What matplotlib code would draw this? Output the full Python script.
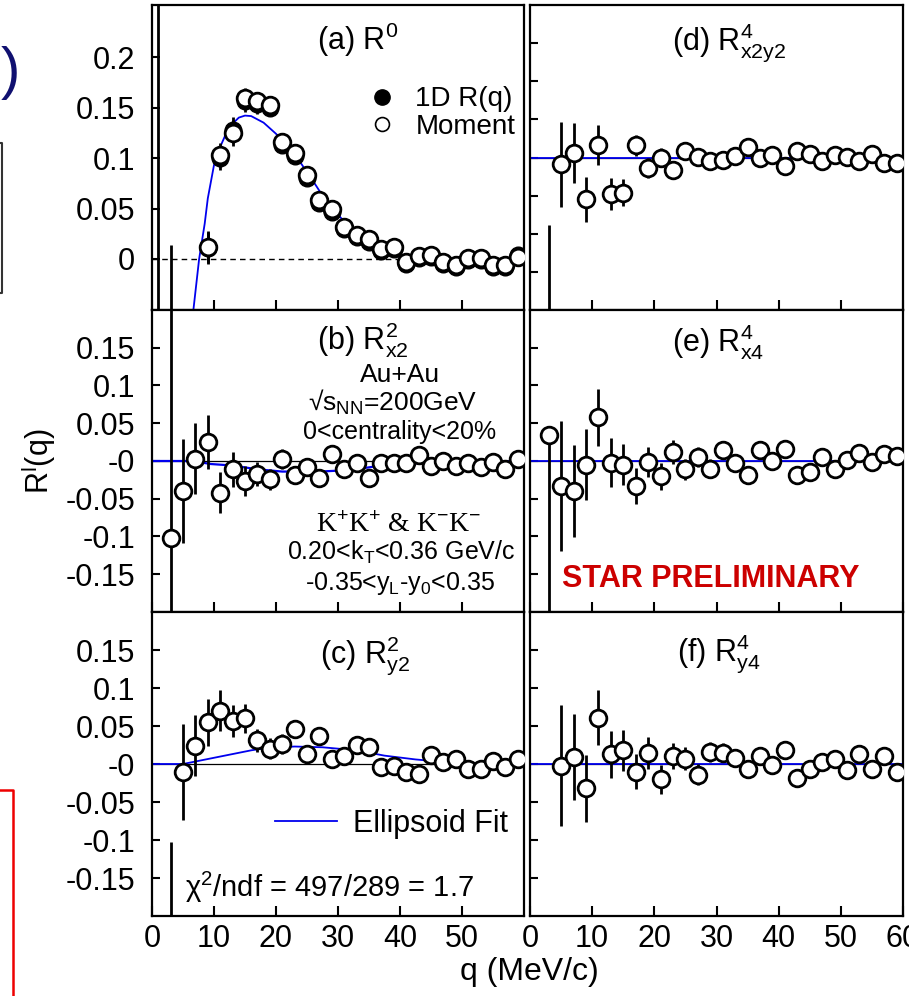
import numpy as np
import matplotlib
matplotlib.use('Agg')
import matplotlib.pyplot as plt
from matplotlib.lines import Line2D

plt.rcParams['font.family'] = ['Liberation Sans', 'DejaVu Sans']
plt.rcParams['mathtext.fontset'] = 'custom'
plt.rcParams['mathtext.rm'] = 'Liberation Sans'
plt.rcParams['mathtext.it'] = 'Liberation Sans:italic'
plt.rcParams['mathtext.bf'] = 'Liberation Sans:bold'

# ---------------- data ----------------
q_odd = [3, 5, 7, 9, 11, 13, 15, 17, 19, 21, 23, 25, 27, 29, 31, 33, 35, 37, 39,
         41, 43, 45, 47, 49, 51, 53, 55, 57, 59]

# (a) R^0 : moment (open) and 1D R(q) (filled)
q_a = [1, 3, 9, 11, 13, 15, 17, 19, 21, 23, 25, 27, 29, 31, 33, 35, 37, 39,
       41, 43, 45, 47, 49, 51, 53, 55, 57, 59]
a_mom = [-0.30, -0.20, 0.012, 0.103, 0.125, 0.159, 0.156, 0.152, 0.116, 0.105, 0.083,
         0.058, 0.050, 0.032, 0.024, 0.020, 0.010, 0.012, -0.003, 0.003, 0.004,
         -0.003, -0.006, 0.001, 0.001, -0.006, -0.006, 0.002]
a_mom_err = [0.60, 0.214, 0.016, 0.012, 0.013, 0.010, 0.009, 0.008, 0.007, 0.007, 0.006,
             0.006, 0.005, 0.005, 0.005, 0.004, 0.004, 0.004, 0.004, 0.003, 0.003,
             0.003, 0.003, 0.003, 0.003, 0.003, 0.003, 0.003]
q_a1d = [9, 11, 13, 15, 17, 19, 21, 23, 25, 27, 29, 31, 33, 35, 37, 39,
         41, 43, 45, 47, 49, 51, 53, 55, 57, 59]
a_1d = [0.011, 0.100, 0.128, 0.156, 0.153, 0.150, 0.113, 0.102, 0.080, 0.055, 0.047,
        0.030, 0.022, 0.017, 0.008, 0.010, -0.005, 0.001, 0.002, -0.005, -0.008,
        -0.001, -0.001, -0.008, -0.008, 0.004]
a_1d_err = [0.016, 0.012, 0.013, 0.010, 0.009, 0.008, 0.007, 0.007, 0.006, 0.006, 0.005,
            0.005, 0.005, 0.004, 0.004, 0.004, 0.004, 0.003, 0.003, 0.003, 0.003,
            0.003, 0.003, 0.003, 0.003, 0.003]
fit_a_q = [6.5, 7.6, 8.5, 9, 10, 11, 12, 13, 14, 15, 16, 18, 20, 22, 24, 26, 28, 30,
           32, 34, 36, 38, 40, 43, 46, 50, 55, 60]
fit_a = [-0.06, 0.0, 0.035, 0.060, 0.093, 0.111, 0.125, 0.134, 0.140, 0.142, 0.1415,
         0.135, 0.124, 0.111, 0.095, 0.077, 0.058, 0.044, 0.030, 0.020, 0.012, 0.0066,
         0.002, -0.002, -0.004, -0.006, -0.0066, -0.006]

# (b) R^2_x2
b_val = [-0.102, -0.040, 0.003, 0.025, -0.042, -0.011, -0.026, -0.017, -0.024, 0.003,
         -0.019, -0.008, -0.022, 0.009, -0.010, -0.002, -0.022, -0.002, -0.002, -0.002,
         0.008, -0.006, 0.000, -0.006, -0.003, -0.008, -0.001, -0.010, 0.003]
b_err = [0.40, 0.069, 0.047, 0.036, 0.027, 0.023, 0.020, 0.016, 0.014, 0.013, 0.012,
         0.011, 0.010, 0.010, 0.009, 0.009, 0.008, 0.008, 0.008, 0.007, 0.007, 0.007,
         0.007, 0.006, 0.006, 0.006, 0.006, 0.006, 0.006]
fit_b_q = [0, 6.5, 9.5, 13, 17, 21, 27, 32, 37, 43, 48, 60]
fit_b = [0, 0, -0.004, -0.006, -0.011, -0.014, -0.014, -0.012, -0.006, -0.003, -0.001, 0]

# (c) R^2_y2
c_val = [-0.35, -0.011, 0.024, 0.055, 0.070, 0.057, 0.060, 0.031, 0.020, 0.026, 0.046,
         0.013, 0.037, 0.007, 0.011, 0.025, 0.023, -0.004, -0.002, -0.010, -0.013,
         0.012, 0.003, 0.007, -0.006, -0.007, 0.004, -0.004, 0.006]
c_err = [0.247, 0.063, 0.040, 0.031, 0.027, 0.021, 0.019, 0.015, 0.014, 0.013, 0.012,
         0.011, 0.010, 0.010, 0.009, 0.009, 0.008, 0.008, 0.008, 0.007, 0.007, 0.007,
         0.007, 0.006, 0.006, 0.006, 0.006, 0.006, 0.006]
fit_c_q = [0, 5, 10.5, 16, 18.5, 23, 27.5, 33, 37.5, 42.5, 48, 53.5, 60]
fit_c = [0, 0, 0.009, 0.018, 0.021, 0.023, 0.022, 0.018, 0.011, 0.006, 0.002, 0.0, 0]

# (d) R^4_x2y2
d_val = [-0.35, -0.009, 0.006, -0.055, 0.016, -0.048, -0.046, 0.016, -0.014, 0.000,
         -0.016, 0.008, 0.001, -0.004, -0.003, 0.002, 0.014, 0.000, 0.003, -0.011,
         0.008, 0.004, -0.005, 0.003, 0.001, -0.005, 0.004, -0.007, -0.007]
d_err = [0.262, 0.056, 0.039, 0.030, 0.026, 0.021, 0.018, 0.014, 0.013, 0.012, 0.011,
         0.010, 0.010, 0.009, 0.009, 0.008, 0.008, 0.008, 0.007, 0.007, 0.007, 0.007,
         0.006, 0.006, 0.006, 0.006, 0.006, 0.006, 0.006]

# (e) R^4_x4
e_val = [0.035, -0.033, -0.040, -0.005, 0.058, -0.002, -0.005, -0.033, -0.001, -0.020,
         0.012, -0.011, 0.005, -0.010, 0.014, -0.003, -0.018, 0.014, 0.000, 0.016,
         -0.018, -0.014, 0.005, -0.011, 0.001, 0.011, -0.001, 0.009, 0.006]
e_err_lo = [0.40, 0.086, 0.061, 0.047, 0.038, 0.032, 0.027, 0.024, 0.020, 0.018, 0.016,
            0.014, 0.013, 0.012, 0.011, 0.011, 0.010, 0.010, 0.009, 0.009, 0.009, 0.008,
            0.008, 0.008, 0.008, 0.007, 0.007, 0.007, 0.007]
e_err_hi = [0.0] + e_err_lo[1:]

# (f) R^4_y4
q_f = q_odd[1:]
f_val = [-0.002, 0.009, -0.032, 0.061, 0.013, 0.018, -0.010, 0.014, -0.020, 0.011,
         0.007, -0.014, 0.016, 0.015, 0.008, -0.007, 0.011, -0.001, 0.019, -0.018,
         -0.007, 0.003, 0.007, -0.008, 0.013, -0.006, 0.011, -0.010]
f_err = [0.080, 0.057, 0.044, 0.036, 0.031, 0.027, 0.023, 0.021, 0.019, 0.017, 0.015,
         0.014, 0.013, 0.012, 0.011, 0.011, 0.010, 0.010, 0.009, 0.009, 0.009, 0.008,
         0.008, 0.008, 0.008, 0.007, 0.007, 0.007]

fit_flat_q = [0, 60]
fit_flat = [0, 0]

yt_top = [0, 0.05, 0.1, 0.15, 0.2]
yt_top_lab = ['0', '0.05', '0.1', '0.15', '0.2']
yt = [-0.15, -0.1, -0.05, 0, 0.05, 0.1, 0.15]
yt_lab = ['-0.15', '-0.1', '-0.05', '-0', '0.05', '0.1', '0.15']
xt_left = [0, 10, 20, 30, 40, 50]
xt_right = [0, 10, 20, 30, 40, 50, 60]

# ---------------- figure ----------------
W, H = 909, 996
fig = plt.figure(figsize=(W / 100, H / 100), dpi=100)


def fx(x):
    return x / W


def fy(y):
    return 1 - y / H


def box(x0, x1, y_top, y_bot):
    return [fx(x0), fy(y_bot), (x1 - x0) / W, (y_bot - y_top) / H]


ax_a = fig.add_axes(box(152, 524, 5, 310))
ax_b = fig.add_axes(box(152, 524, 310, 612))
ax_c = fig.add_axes(box(152, 524, 612, 916))
ax_d = fig.add_axes(box(530, 903, 5, 310))
ax_e = fig.add_axes(box(530, 903, 310, 612))
ax_f = fig.add_axes(box(530, 903, 612, 916))

blue = '#0000ee'
MS = 12
mk = dict(marker='o', ms=MS, mfc='white', mec='black', mew=2, ls='none', zorder=4)


def points(ax, x, y, lo, hi=None):
    if hi is None:
        hi = lo
    ax.errorbar(x, y, yerr=[lo, hi], fmt='none', ecolor='black', elinewidth=2,
                capsize=0, zorder=3)
    ax.plot(x, y, **mk)


for ax, left, bottom in [(ax_a, True, False), (ax_b, True, False), (ax_c, True, True),
                         (ax_d, False, False), (ax_e, False, False), (ax_f, False, True)]:
    ax.set_xlim(0, 60)
    ax.set_xticks(xt_left if left else xt_right)
    for s in ax.spines.values():
        s.set_linewidth(1.6)
    ax.tick_params(axis='x', direction='in', length=7, width=1.5, labelsize=22, pad=6,
                   labelbottom=bottom)
    ax.tick_params(axis='y', direction='in', length=6, width=1.5, labelsize=22, pad=12,
                   labelleft=left)
    if ax is ax_a:
        ax.set_ylim(-0.0505, 0.2515)
        ax.set_yticks(yt_top)
        ax.set_yticklabels(yt_top_lab)
    else:
        ax.set_ylim(-0.2, 0.2)
        ax.set_yticks(yt)
        ax.set_yticklabels(yt_lab if left else [''] * len(yt))
        ax.axhline(0, color='black', lw=0.9, zorder=1)

# (a)
ax_a.axhline(0, color='black', lw=1, ls=(0, (4, 3)), zorder=1)
ax_a.plot(fit_a_q, fit_a, color=blue, lw=1.3, zorder=2)
ax_a.errorbar(q_a1d, a_1d, yerr=a_1d_err, fmt='none', ecolor='black', elinewidth=2, zorder=3)
ax_a.plot(q_a1d, a_1d, marker='o', ms=MS, color='black', ls='none', zorder=4)
ax_a.errorbar(q_a, a_mom, yerr=a_mom_err, fmt='none', ecolor='black', elinewidth=2, zorder=3)
ax_a.plot(q_a, a_mom, marker='o', ms=MS, mfc='white', mec='black', mew=2, ls='none',
          zorder=5)
h1 = Line2D([], [], marker='o', ms=11, color='black', ls='none')
h2 = Line2D([], [], marker='o', ms=10, mfc='white', mec='black', mew=1.2, ls='none')
ax_a.legend([h1, h2], ['1D R(q)', 'Moment'], loc='center left',
            bbox_to_anchor=(0.581, 0.646), frameon=False, fontsize=20, borderpad=0,
            borderaxespad=0, handlelength=1.0, handletextpad=0.7, labelspacing=0.05)

# (b), (c)
ax_b.plot(fit_b_q, fit_b, color=blue, lw=1.6, zorder=2)
points(ax_b, q_odd, b_val, b_err)
ax_c.plot(fit_c_q, fit_c, color=blue, lw=1.3, zorder=2)
points(ax_c, q_odd, c_val, c_err)
hfit = Line2D([], [], color=blue, lw=1.3)
ax_c.legend([hfit], ['Ellipsoid Fit'], loc='center left', bbox_to_anchor=(0.331, 0.303),
            frameon=False, fontsize=22, borderpad=0, borderaxespad=0, handlelength=2.03,
            handletextpad=0.52)

# (d), (e), (f)
for ax in (ax_d, ax_e, ax_f):
    ax.plot(fit_flat_q, fit_flat, color=blue, lw=1.3, zorder=2)
points(ax_d, q_odd, d_val, d_err)
points(ax_e, q_odd, e_val, e_err_lo, e_err_hi)
points(ax_f, q_f, f_val, f_err)

# panel titles
fig.text(fx(317), fy(50), r'(a) R$^{0}$', fontsize=22, va='baseline')
fig.text(fx(317), fy(350), r'(b) $\mathrm{R}^{2}_{\mathrm{x2}}$', fontsize=22, va='baseline')
fig.text(fx(320), fy(662), r'(c) $\mathrm{R}^{2}_{\mathrm{y2}}$', fontsize=22, va='baseline')
fig.text(fx(672), fy(50), r'(d) $\mathrm{R}^{4}_{\mathrm{x2y2}}$', fontsize=22, va='baseline')
fig.text(fx(672), fy(352), r'(e) $\mathrm{R}^{4}_{\mathrm{x4}}$', fontsize=22, va='baseline')
fig.text(fx(677), fy(660), r'(f) $\mathrm{R}^{4}_{\mathrm{y4}}$', fontsize=22, va='baseline')

# annotations in (b)
fig.text(fx(400), fy(382), 'Au+Au', fontsize=19, ha='center', va='baseline')
fig.text(fx(393), fy(411), r'√s$_{\mathrm{NN}}$=200GeV', fontsize=19, ha='center',
         va='baseline')
fig.text(fx(400), fy(439), '0<centrality<20%', fontsize=18, ha='center', va='baseline')
fig.text(fx(399), fy(532), r'K$^{+}$K$^{+}$ & K$^{-}$K$^{-}$', fontsize=20, ha='center',
         va='baseline', family=['Liberation Serif', 'DejaVu Serif'])
fig.text(fx(401), fy(560), r'0.20<k$_{\mathrm{T}}$<0.36 GeV/c', fontsize=18, ha='center',
         va='baseline')
fig.text(fx(400), fy(590), r'-0.35<y$_{\mathrm{L}}$-y$_{0}$<0.35', fontsize=18,
         ha='center', va='baseline')

fig.text(fx(562), fy(587), 'STAR PRELIMINARY', fontsize=22, fontweight='bold',
         color='#cc0000', va='baseline')
fig.text(fx(185), fy(897), r'χ$^{2}$/ndf = 497/289 = 1.7', fontsize=21, va='baseline')

# axis titles
fig.text(fx(529), fy(972), 'q (MeV/c)', fontsize=23, ha='center', va='center')
fig.text(fx(38), fy(461), r'R$^{\mathrm{l}}$(q)', fontsize=22, ha='center', va='center',
         rotation=90)

# slide remnants at the left edge
fig.text(fx(10), fy(73), ')', fontsize=42, color='#101070', ha='center', va='center')
fig.add_artist(Line2D([fx(0), fx(2), fx(2), fx(0)], [fy(143), fy(143), fy(293), fy(293)],
                      color='#333333', lw=1.5))
fig.add_artist(Line2D([fx(0), fx(13), fx(13)], [fy(790), fy(790), fy(996)],
                      color='#ee0000', lw=1.8))

fig.savefig('out.png', dpi=100)
